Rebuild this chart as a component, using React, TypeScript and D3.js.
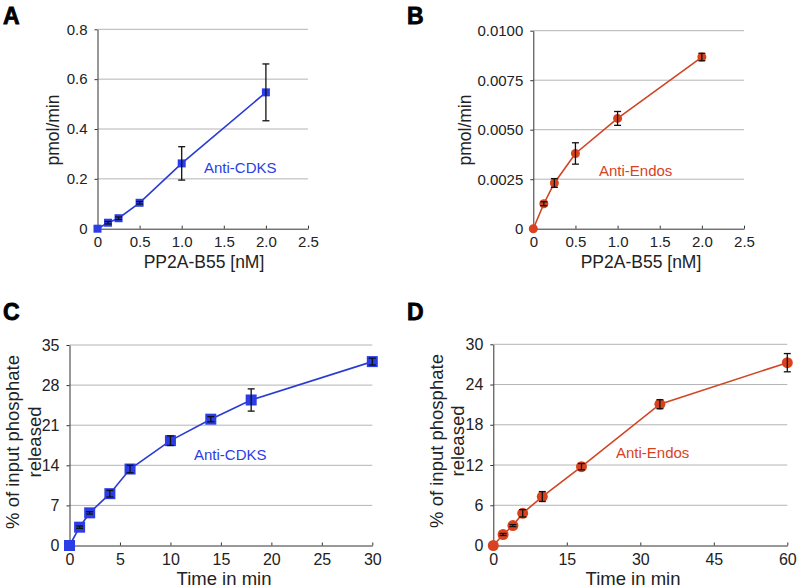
import React, { useEffect, useRef } from 'react';
import * as d3 from 'd3';

// panel A / B: rate vs PP2A-B55 concentration
const doseNM = [0, 0.125, 0.25, 0.5, 1.0, 2.0];
const cdksRate = [0, 0.024, 0.042, 0.104, 0.262, 0.547];
const cdksRateErr = [0, 0.005, 0.005, 0.005, 0.067, 0.114];
const endosRate = [0, 0.00126, 0.00231, 0.0038, 0.00557, 0.00867];
const endosRateErr = [0, 0.0001, 0.00022, 0.00054, 0.00035, 0.00019];

// panel C / D: time course
const cdksTime = [0, 1, 2, 4, 6, 10, 14, 18, 30];
const cdksRelease = [0, 3.2, 5.7, 9.05, 13.35, 18.3, 22.05, 25.4, 32.1];
const cdksReleaseErr = [0, 0.2, 0.2, 0.58, 0.65, 0.84, 0.45, 1.94, 0.6];
const endosTime = [0, 2, 4, 6, 10, 18, 34, 60];
const endosRelease = [0, 1.64, 2.97, 4.8, 7.3, 11.75, 21.07, 27.26];
const endosReleaseErr = [0, 0.15, 0.15, 0.55, 0.74, 0.47, 0.67, 1.36];

// ticks
const doseTicks = [0, 0.5, 1.0, 1.5, 2.0, 2.5];
const doseTickLabels = ['0', '0.5', '1.0', '1.5', '2.0', '2.5'];
const cdksRateTicks = [0, 0.2, 0.4, 0.6, 0.8];
const cdksRateTickLabels = ['0', '0.2', '0.4', '0.6', '0.8'];
const endosRateTicks = [0, 0.0025, 0.005, 0.0075, 0.01];
const endosRateTickLabels = ['0', '0.0025', '0.0050', '0.0075', '0.0100'];
const cdksTimeTicks = [0, 5, 10, 15, 20, 25, 30];
const cdksReleaseTicks = [0, 7, 14, 21, 28, 35];
const endosTimeTicks = [0, 15, 30, 45, 60];
const endosReleaseTicks = [0, 6, 12, 18, 24, 30];

const BLUE = '#2b3de6';
const BLUE_LINE = '#2a3bd4';
const RED = '#d8421f';
const RED_LINE = '#d04522';
const FONT = 'Liberation Sans, Arial, Helvetica, sans-serif';

interface PanelProps {
  letter: string;
  letterX: number;
  letterY: number;
  xs: number[];
  ys: number[];
  errs: number[];
  xDomain: [number, number];
  yDomain: [number, number];
  xTicks: number[];
  xTickLabels: string[];
  yTicks: number[];
  yTickLabels: string[];
  left: number;
  right: number;
  top: number;
  bottom: number;
  color: string;
  lineColor: string;
  marker: 'square' | 'circle';
  markerSize: number;
  capWidth: number;
  tickFont: number;
  titleFont: number;
  xTitle: string;
  xTitleX: number;
  xTitleY: number;
  yTitle: string[];
  yTitleX: number[];
  yTitleY: number;
  note: string;
  noteX: number;
  noteY: number;
}

const Panel: React.FC<{ p: PanelProps }> = ({ p }) => {
  const gRef = useRef<SVGGElement>(null);

  useEffect(() => {
    if (!gRef.current) return;
    const g = d3.select(gRef.current);
    g.selectAll('*').remove();

    const x = d3.scaleLinear().domain(p.xDomain).range([p.left, p.right]);
    const y = d3.scaleLinear().domain(p.yDomain).range([p.bottom, p.top]);

    // grid
    g.append('g')
      .selectAll('line')
      .data(p.yTicks.filter(t => t !== 0))
      .enter()
      .append('line')
      .attr('x1', p.left)
      .attr('x2', p.right)
      .attr('y1', d => y(d))
      .attr('y2', d => y(d))
      .attr('stroke', '#b4b4b4')
      .attr('stroke-width', 1);

    const yAxis = g.append('g')
      .attr('transform', `translate(${p.left},0)`)
      .call(
        d3.axisLeft(y)
          .tickValues(p.yTicks)
          .tickFormat((_d, i) => p.yTickLabels[i])
          .tickSizeInner(3)
          .tickSizeOuter(0)
          .tickPadding(7)
      );

    const xAxis = g.append('g')
      .attr('transform', `translate(0,${p.bottom})`)
      .call(
        d3.axisBottom(x)
          .tickValues(p.xTicks)
          .tickFormat((_d, i) => p.xTickLabels[i])
          .tickSizeInner(-3)
          .tickSizeOuter(0)
          .tickPadding(8)
      );

    [yAxis, xAxis].forEach(ax => {
      ax.selectAll('path').attr('stroke', '#333');
      ax.selectAll('line').attr('stroke', '#333');
      ax.selectAll('text')
        .attr('fill', '#222')
        .style('font-family', FONT)
        .style('font-size', `${p.tickFont}px`);
    });

    const pts = p.xs.map((v, i) => ({ x: v, y: p.ys[i], e: p.errs[i] }));

    g.append('path')
      .datum(pts)
      .attr('fill', 'none')
      .attr('stroke', p.lineColor)
      .attr('stroke-width', 1.6)
      .attr('d', d3.line<{ x: number; y: number }>().x(d => x(d.x)).y(d => y(d.y)));

    if (p.marker === 'square') {
      g.selectAll('.mk')
        .data(pts)
        .enter()
        .append('rect')
        .attr('x', d => x(d.x) - p.markerSize / 2)
        .attr('y', d => y(d.y) - p.markerSize / 2)
        .attr('width', p.markerSize)
        .attr('height', p.markerSize)
        .attr('fill', p.color);
    } else {
      g.selectAll('.mk')
        .data(pts)
        .enter()
        .append('circle')
        .attr('cx', d => x(d.x))
        .attr('cy', d => y(d.y))
        .attr('r', p.markerSize / 2)
        .attr('fill', p.color);
    }

    // error bars drawn over markers
    const eb = g.append('g').attr('stroke', '#111').attr('stroke-width', 1.3);
    pts.filter(d => d.e > 0).forEach(d => {
      const cx = x(d.x);
      const y0 = y(d.y - d.e);
      const y1 = y(d.y + d.e);
      const w = p.capWidth / 2;
      eb.append('line').attr('x1', cx).attr('x2', cx).attr('y1', y0).attr('y2', y1);
      eb.append('line').attr('x1', cx - w).attr('x2', cx + w).attr('y1', y0).attr('y2', y0);
      eb.append('line').attr('x1', cx - w).attr('x2', cx + w).attr('y1', y1).attr('y2', y1);
    });

    g.append('text')
      .attr('x', p.noteX)
      .attr('y', p.noteY)
      .attr('dominant-baseline', 'central')
      .attr('fill', p.color)
      .style('font-family', FONT)
      .style('font-size', '15px')
      .text(p.note);

    g.append('text')
      .attr('x', p.xTitleX)
      .attr('y', p.xTitleY)
      .attr('text-anchor', 'middle')
      .attr('dominant-baseline', 'central')
      .attr('fill', '#222')
      .style('font-family', FONT)
      .style('font-size', `${p.titleFont}px`)
      .text(p.xTitle);

    p.yTitle.forEach((t, i) => {
      g.append('text')
        .attr('transform', `translate(${p.yTitleX[i]},${p.yTitleY}) rotate(-90)`)
        .attr('text-anchor', 'middle')
        .attr('dominant-baseline', 'central')
        .attr('fill', '#222')
        .style('font-family', FONT)
        .style('font-size', `${p.titleFont}px`)
        .text(t);
    });

    g.append('text')
      .attr('x', p.letterX)
      .attr('y', p.letterY)
      .attr('fill', '#000')
      .attr('stroke', '#000')
      .attr('stroke-width', 0.8)
      .style('font-family', FONT)
      .style('font-weight', 'bold')
      .style('font-size', '23px')
      .text(p.letter);
  }, [p]);

  return <g ref={gRef}></g>;
};

const panels: PanelProps[] = [
  {
    letter: 'A', letterX: 3, letterY: 23.5,
    xs: doseNM, ys: cdksRate, errs: cdksRateErr,
    xDomain: [0, 2.5], yDomain: [0, 0.8],
    xTicks: doseTicks, xTickLabels: doseTickLabels,
    yTicks: cdksRateTicks, yTickLabels: cdksRateTickLabels,
    left: 97.5, right: 308, top: 29.3, bottom: 228.7,
    color: BLUE, lineColor: BLUE_LINE, marker: 'square', markerSize: 8, capWidth: 7,
    tickFont: 15, titleFont: 17.5,
    xTitle: 'PP2A-B55 [nM]', xTitleX: 204, xTitleY: 262,
    yTitle: ['pmol/min'], yTitleX: [53], yTitleY: 130,
    note: 'Anti-CDKS', noteX: 204, noteY: 167,
  },
  {
    letter: 'B', letterX: 407, letterY: 23.5,
    xs: doseNM, ys: endosRate, errs: endosRateErr,
    xDomain: [0, 2.5], yDomain: [0, 0.01],
    xTicks: doseTicks, xTickLabels: doseTickLabels,
    yTicks: endosRateTicks, yTickLabels: endosRateTickLabels,
    left: 533.3, right: 744, top: 30.7, bottom: 228.7,
    color: RED, lineColor: RED_LINE, marker: 'circle', markerSize: 9, capWidth: 7,
    tickFont: 15, titleFont: 17.5,
    xTitle: 'PP2A-B55 [nM]', xTitleX: 641, xTitleY: 262,
    yTitle: ['pmol/min'], yTitleX: [464.5], yTitleY: 130,
    note: 'Anti-Endos', noteX: 599, noteY: 170,
  },
  {
    letter: 'C', letterX: 3, letterY: 319.5,
    xs: cdksTime, ys: cdksRelease, errs: cdksReleaseErr,
    xDomain: [0, 30], yDomain: [0, 35],
    xTicks: cdksTimeTicks, xTickLabels: cdksTimeTicks.map(String),
    yTicks: cdksReleaseTicks, yTickLabels: cdksReleaseTicks.map(String),
    left: 69.5, right: 372.3, top: 345, bottom: 545.5,
    color: BLUE, lineColor: BLUE_LINE, marker: 'square', markerSize: 11, capWidth: 7,
    tickFont: 16, titleFont: 18.5,
    xTitle: 'Time in min', xTitleX: 224, xTitleY: 578.5,
    yTitle: ['% of input phosphate', 'released'], yTitleX: [12, 34], yTitleY: 442,
    note: 'Anti-CDKS', noteX: 194, noteY: 454,
  },
  {
    letter: 'D', letterX: 407, letterY: 319.5,
    xs: endosTime, ys: endosRelease, errs: endosReleaseErr,
    xDomain: [0, 60], yDomain: [0, 30],
    xTicks: endosTimeTicks, xTickLabels: endosTimeTicks.map(String),
    yTicks: endosReleaseTicks, yTickLabels: endosReleaseTicks.map(String),
    left: 493.3, right: 787.3, top: 344.3, bottom: 545.5,
    color: RED, lineColor: RED_LINE, marker: 'circle', markerSize: 11, capWidth: 7,
    tickFont: 16, titleFont: 18.5,
    xTitle: 'Time in min', xTitleX: 633, xTitleY: 578.5,
    yTitle: ['% of input phosphate', 'released'], yTitleX: [436, 457], yTitleY: 441,
    note: 'Anti-Endos', noteX: 616, noteY: 452,
  },
];

export default function App() {
  return (
    <div style={{ position: 'absolute', left: 0, top: 0 }}>
      <svg width={797} height={588} style={{ display: 'block', background: '#fff' }}>
        {panels.map(p => (
          <Panel key={p.letter} p={p} />
        ))}
      </svg>
    </div>
  );
}
